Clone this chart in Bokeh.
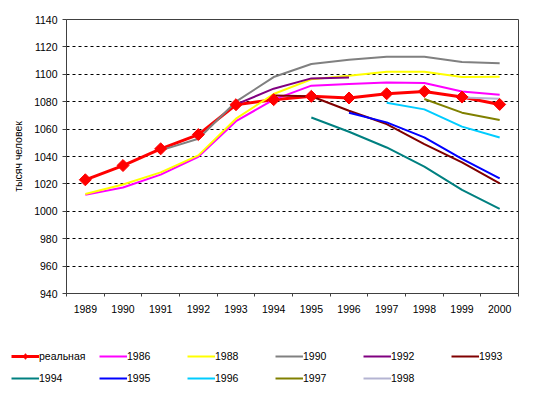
import numpy as np
from bokeh.plotting import figure
from bokeh.models import Range1d, FixedTicker, Legend, LegendItem
from bokeh.embed import file_html
from bokeh.resources import INLINE

# ---------------- data ----------------
years = [1989, 1990, 1991, 1992, 1993, 1994, 1995, 1996, 1997, 1998, 1999, 2000]
year_labels = ["1989", "1990", "1991", "1992", "1993", "1994",
               "1995", "1996", "1997", "1998", "1999", "2000"]
y_ticks = [940, 960, 980, 1000, 1020, 1040, 1060, 1080, 1100, 1120, 1140]

N = None
real  = [1023.0, 1033.4, 1045.6, 1056.0, 1077.8, 1081.5, 1083.9, 1082.7, 1085.8, 1087.5, 1083.4, 1078.0]
f1986 = [1012.0, 1017.4, 1026.8, 1039.8, 1065.8, 1081.5, 1091.7, 1092.9, 1094.1, 1093.6, 1087.5, 1085.1]
f1988 = [1012.6, 1019.6, 1028.4, 1040.8, 1067.6, 1085.6, 1096.3, 1099.0, 1101.9, 1101.9, 1098.0, 1098.2]
f1990 = [N, N, 1044.5, 1053.0, 1080.0, 1098.0, 1107.5, 1110.7, 1112.8, 1112.8, 1109.0, 1108.0]
f1992 = [N, N, N, N, 1078.0, 1089.5, 1097.0, 1097.7, N, N, N, N]
f1993 = [N, N, N, N, N, 1084.5, 1084.0, 1073.4, 1063.7, 1049.1, 1035.7, 1020.4]
f1994 = [N, N, N, N, N, N, 1068.5, 1058.1, 1046.6, 1032.6, 1015.6, 1001.7]
f1995 = [N, N, N, N, N, N, N, 1072.0, 1064.9, 1054.0, 1038.2, 1024.0]
f1996 = [N, N, N, N, N, N, N, N, 1079.3, 1074.4, 1061.8, 1053.9]
f1997 = [N, N, N, N, N, N, N, N, N, 1082.0, 1072.0, 1066.6]
f1998 = [N, N, N, N, N, N, N, N, N, N, 1083.0, 1082.2]

series_names = ["1986", "1988", "1990", "1992", "1993",
                "1994", "1995", "1996", "1997", "1998"]
series_values = [f1986, f1988, f1990, f1992, f1993,
                 f1994, f1995, f1996, f1997, f1998]
series_colors = ["#FF00FF", "#FFFF00", "#808080", "#800080", "#800000",
                 "#008080", "#0000FF", "#00CCFF", "#808000", "#B4B4D2"]
real_name = "реальная"

FONT = "Liberation Sans"
FS = "10.5px"

def nanify(v):
    return np.array([np.nan if a is None else a for a in v], dtype=float)

# ---------------- main chart ----------------
p = figure(width=525, height=315, output_backend="svg", toolbar_location=None,
           x_range=Range1d(1988.5, 2000.5), y_range=Range1d(940, 1140),
           min_border_left=66, min_border_right=7, min_border_top=19,
           min_border_bottom=22)
p.background_fill_color = "white"
p.border_fill_color = "white"
p.outline_line_color = "#404040"
p.outline_line_width = 1

xa = p.xaxis[0]
xa.ticker = FixedTicker(ticks=years,
                        minor_ticks=[y - 0.5 for y in years] + [years[-1] + 0.5])
xa.major_label_overrides = {y: l for y, l in zip(years, year_labels)}
xa.major_tick_out = 0
xa.major_tick_in = 0
xa.minor_tick_out = 3
xa.minor_tick_in = 0
xa.minor_tick_line_color = "#404040"
xa.axis_line_color = "#404040"
xa.major_label_standoff = 8
xa.major_label_text_font = FONT
xa.major_label_text_font_size = FS
xa.major_label_text_color = "black"

ya = p.yaxis[0]
ya.ticker = FixedTicker(ticks=y_ticks)
ya.major_tick_out = 4
ya.major_tick_in = 0
ya.minor_tick_out = 0
ya.minor_tick_in = 0
ya.major_tick_line_color = "#404040"
ya.axis_line_color = "#404040"
ya.major_label_standoff = 5
ya.major_label_text_font = FONT
ya.major_label_text_font_size = FS
ya.major_label_text_color = "black"
ya.axis_label = "тысяч человек"
ya.axis_label_text_font = FONT
ya.axis_label_text_font_size = FS
ya.axis_label_text_font_style = "normal"
ya.axis_label_text_color = "black"
ya.axis_label_standoff = 7

p.xgrid.grid_line_color = None
p.ygrid.ticker = FixedTicker(ticks=y_ticks)
p.ygrid.grid_line_color = "black"
p.ygrid.grid_line_dash = "3 3"
p.ygrid.grid_line_width = 1

real_arr = nanify(real)
p.line(years, real_arr, line_color="#FF0000", line_width=3)
for name, vals, col in zip(series_names, series_values, series_colors):
    p.line(years, nanify(vals), line_color=col, line_width=2)
p.scatter(years, real_arr, marker="square", angle=np.pi / 4, size=8.5,
          fill_color="#FF0000", line_color="#FF0000")

# ---------------- legend strip (separate root) ----------------
q = figure(width=525, height=71, output_backend="svg", toolbar_location=None,
           x_range=Range1d(0, 1), y_range=Range1d(0, 1),
           min_border=0)
q.axis.visible = False
q.grid.visible = False
q.outline_line_color = None
q.background_fill_color = "white"
q.border_fill_color = "white"

off = [-5, -4]  # keys placed outside the visible range; only the legend shows them
lg_real_line = q.line(off, off, line_color="#FF0000", line_width=3)
lg_real_mark = q.scatter(off, off, marker="diamond", size=8,
                         fill_color="#FF0000", line_color="#FF0000")
items = [LegendItem(label=real_name, renderers=[lg_real_line, lg_real_mark])]
for name, col in zip(series_names, series_colors):
    r = q.line(off, off, line_color=col, line_width=2)
    items.append(LegendItem(label=name, renderers=[r]))

def make_legend(its, loc):
    return Legend(items=its, location=loc, orientation="horizontal",
                  glyph_width=28, glyph_height=14, label_height=14,
                  label_width=60, label_standoff=0, spacing=0,
                  padding=0, margin=0, border_line_color=None,
                  background_fill_alpha=0,
                  label_text_font=FONT, label_text_font_size=FS,
                  label_text_color="black")

q.add_layout(make_legend(items[:6], (11, 23)))
q.add_layout(make_legend(items[6:], (11, 1)))

open("out.html", "w").write(file_html([p, q], INLINE))
